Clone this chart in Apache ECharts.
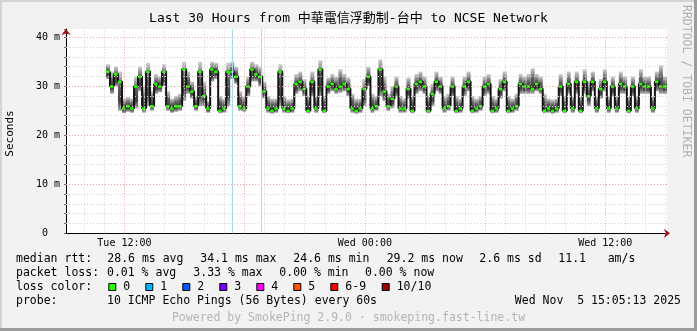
<!DOCTYPE html>
<html><head><meta charset="utf-8">
<script src="https://cdn.jsdelivr.net/npm/echarts@6/dist/echarts.min.js"></script>
<style>html,body{margin:0;padding:0;background:#f2f2f2}#c{width:697px;height:331px}</style>
</head><body><div id="c"></div>
<script>
// ---- data (median RTT in ms, 12-minute consolidation) ----
const medianMs = [
 33,30,32.5,31,25.5,26,25.5,30,32,25.5, 33,26,30.5,30,33,26,25.5,26,26,33.5,
 30,29,26,33,28,25.5,33.5,33,25,25.5, 33,33,32,26,25.5,30,33.5,32.5,32,29,
 25.5,25,25.5,33,25.5,25,25.5,30.5,31,29.5, 25,31,25.5,33.5,25,30,30.5,29.5,30,30.5,
 29.5,25.5,25,25.5,29.5,32,25.5,26,33.5,29, 26,27.5,30,25.5,25.5,29.5,25,30.5,31,30,
 25,28.5,31,30,25.5,26,30,25,25.5,30, 31,25,25.5,26,30,30.5,25,25.5,29.5,31,
 25,25.5,26,30.5,30,30,29.5,30.5,29.5,25, 25.5,25,25.5,30,25,30.5,25.5,31,25,31,
 28,31,25.5,29.5,31,25.5,30,25.5,30.5,30, 25,30,25.5,30.5,30,30,25.5,31,30,30
];
const smokeLowMs = [
 31.5,28.5,30,25,24.5,24.8,24.6,25.5,29,24.6, 26,25,28.5,28.8,30,25,24.6,24.8,25,27,
 28.5,27.5,25,26,26,24.6,31,31.5,24.5,24.6, 26,31.5,30.5,25,24.8,28,31,31,30,27.5,
 24.6,24.4,24.6,26,24.6,24.5,24.6,28.5,29,28, 24.5,28,24.6,28,24.5,28.5,29,28.5,28.7,29,
 28,24.6,24.4,24.6,26,30,24.6,25,28,27, 25,25.5,28,24.6,24.6,27.5,24.5,28.5,29,28.5,
 24.5,26,29,28.5,24.6,25,28,24.5,24.6,28, 29,24.5,24.6,25,28,28.5,24.5,24.6,27.5,29,
 24.5,24.6,25,28.5,28.5,28.5,28.5,29,28.5,24.5, 24.6,24.4,24.6,28,24.5,28.5,24.6,28.5,24.5,28.5,
 26,29,24.6,27.5,29,24.6,28,24.6,28.5,28.5, 24.5,28,24.6,28.5,28.5,28.5,24.6,29,28.5,28.5
];
const smokeHighMs = [
 34.5,33,34,33,27.5,27.8,27.5,32,34,30, 34.8,29,32.5,32,34.5,29,27.5,28,28.5,35,
 33,31,28,35,31,27,35,34.8,28,27.5, 34.8,35,34,29,28,32,35,34.5,34,31,
 28,27.5,27.5,34.5,28,27.3,27.5,32.5,33,31.5, 28,33,28,35.3,28,31.8,32.5,32,33.5,32.5,
 31.8,28.5,27.5,27.5,31.5,34,28.5,28,35.5,32, 28.5,30,32,28,27.5,31.8,28,32.5,33,32,
 28,30.5,33,32,28,28.5,32,28,27.5,32, 33,28,27.5,28,32,32.5,28,27.5,31.5,33,
 28,27.5,28.5,32.5,32,32.5,33.7,32.5,32,28.5, 27.5,27.3,27.5,32.5,28,33,28,33,28,33.5,
 31,33,28,31.5,33.5,28,32,28,33,32, 28,32,28,33.5,32,32,28,33,34.3,32
];
const firstSampleHour = 11.28;   // hours since Tue 00:00, end of first interval
const sampleStepHour = 0.2;      // 12 minutes
const axisStartHour = 9 + 5 / 60;    // Tue 09:05
const axisEndHour = 39 + 5 / 60;     // Wed 15:05
const xTickHours = [12, 24, 36];
const xTickLabels = ['Tue 12:00', 'Wed 00:00', 'Wed 12:00'];
const blueRuleHours = [17.37, 18.85];
const yMax = 41.7;

const statLabels = ['median rtt:', 'packet loss:', 'loss color:', 'probe:'];
const rttStats = ['28.6 ms avg', '34.1 ms max', '24.6 ms min', '29.2 ms now', '2.6 ms sd', '11.1', 'am/s'];
const lossStats = ['0.01 % avg', '3.33 % max', '0.00 % min', '0.00 % now'];
const lossNames = ['0', '1', '2', '3', '4', '5', '6-9', '10/10'];
const lossColors = ['#26ff00', '#00b8ff', '#0059ff', '#7e00ff', '#ff00ff', '#ff5500', '#ff0000', '#a10000'];
const probeText = '10 ICMP Echo Pings (56 Bytes) every 60s';
const dateText = 'Wed Nov  5 15:05:13 2025';
const poweredText = 'Powered by SmokePing 2.9.0 \u00b7 smokeping.fast-line.tw';
const titleText = 'Last 30 Hours from 中華電信浮動制-台中 to NCSE Network';

// ---- build ----
const MONO = "'DejaVu Sans Mono','Noto Sans CJK TC',monospace";
const times = medianMs.map((_, i) => firstSampleHour + i * sampleStepHour);
const medianPts = times.map((t, i) => [t, medianMs[i]]);
const smokePts = times.map((t, i) => [t, smokeLowMs[i], smokeHighMs[i]]);

const minorStyle = {color: '#d2d2d2', type: [1, 2], width: 1};
const majorStyle = {color: '#eaa0a0', type: [1, 2], width: 1};
const blueStyle = {color: '#a4dbf1', type: 'solid', width: 1};
const gridLines = [];
for (let h = Math.ceil(axisStartHour); h <= axisEndHour; h++) if (h % 6) gridLines.push({xAxis: h, lineStyle: minorStyle});
for (let v = 2; v <= 40; v += 2) if (v % 10) gridLines.push({yAxis: v, lineStyle: minorStyle});
for (let h = Math.ceil(axisStartHour); h <= axisEndHour; h++) if (h % 6 === 0) gridLines.push({xAxis: h, lineStyle: majorStyle});
for (let v = 10; v <= 40; v += 10) gridLines.push({yAxis: v, lineStyle: majorStyle});
blueRuleHours.forEach(h => gridLines.push({xAxis: h, lineStyle: blueStyle}));

const graphics = [];
function txt(x, y, s, opt) {
  graphics.push(Object.assign({type: 'text', x: x, y: y, silent: true,
    style: Object.assign({text: s, font: '11.5px ' + MONO, fill: '#000', textAlign: 'left', textVerticalAlign: 'middle'}, opt || {})}));
}
// frame
graphics.push({type: 'rect', shape: {x: 0, y: 0, width: 697, height: 2}, style: {fill: '#d4d4d4'}, silent: true});
graphics.push({type: 'rect', shape: {x: 0, y: 0, width: 2, height: 331}, style: {fill: '#d4d4d4'}, silent: true});
graphics.push({type: 'rect', shape: {x: 694, y: 0, width: 3, height: 331}, style: {fill: '#9c9c9c'}, silent: true});
graphics.push({type: 'rect', shape: {x: 0, y: 328, width: 697, height: 3}, style: {fill: '#9c9c9c'}, silent: true});

graphics.push({type: 'text', x: 10, y: 133.5, rotation: Math.PI / 2, silent: true,
  style: {text: 'Seconds', font: '11px ' + MONO, fill: '#000', textAlign: 'center', textVerticalAlign: 'middle'}});
graphics.push({type: 'text', x: 686, y: 5, rotation: -Math.PI / 2, silent: true,
  style: {text: 'RRDTOOL / TOBI OETIKER', font: '11.5px ' + MONO, fill: '#b0b0b0', textAlign: 'left', textVerticalAlign: 'middle'}});

const L1 = 259.3, L2 = 272.7, L3 = 287, L4 = 300.7, L5 = 318.3;
txt(16, L1, statLabels[0]);
[107.3, 200.3, 293.3, 386.7, 479.3, 558.3, 607.7].forEach((x, i) => txt(x, L1, rttStats[i]));
txt(16, L2, statLabels[1]);
[107, 193.3, 279.3, 365].forEach((x, i) => txt(x, L2, lossStats[i]));
txt(16, L3, statLabels[2]);
[108.3, 145.3, 182.3, 219.3, 256.3, 293.3, 330.3, 381.7].forEach((x, i) => {
  graphics.push({type: 'rect', silent: true, shape: {x: x + 0.5, y: 283.5, width: 7, height: 7},
    style: {fill: lossColors[i], stroke: '#000', lineWidth: 1}});
  txt(x + 15, L3, lossNames[i]);
});
txt(16, L4, statLabels[3]);
txt(107, L4, probeText);
txt(681, L4, dateText, {textAlign: 'right'});
txt(348.5, L5, poweredText, {textAlign: 'center', fill: '#b4b4b4'});

const chart = echarts.init(document.getElementById('c'), null, {renderer: 'canvas', width: 697, height: 331});
chart.setOption({
  animation: false,
  backgroundColor: '#f2f2f2',
  title: {text: titleText, left: 'center', top: 7,
    textStyle: {fontFamily: MONO, fontSize: 13, fontWeight: 'normal', color: '#000'}},
  grid: {left: 66, right: 30, top: 29, bottom: 97.7, show: true, backgroundColor: '#fff', borderWidth: 0},
  xAxis: [{
    type: 'value', min: axisStartHour, max: axisEndHour,
    axisLine: {show: true, onZero: false, lineStyle: {color: '#000', width: 1}},
    axisTick: {show: false}, splitLine: {show: false},
    axisLabel: {customValues: xTickHours, margin: 5, fontFamily: MONO, fontSize: 10, color: '#000',
      formatter: v => { const k = xTickHours.indexOf(v); return k >= 0 ? xTickLabels[k] : ''; }}
  }, {
    type: 'value', min: axisStartHour, max: axisEndHour, position: 'bottom',
    axisLine: {show: true, onZero: false, symbol: ['none', 'arrow'], symbolSize: [7, 6], symbolOffset: [0, 3],
      lineStyle: {color: '#9b1414', width: 0}},
    axisTick: {show: false}, axisLabel: {show: false}, splitLine: {show: false}
  }],
  yAxis: [{
    type: 'value', min: 0, max: yMax, interval: 2,
    axisLine: {show: true, onZero: false, lineStyle: {color: '#000', width: 1}},
    axisTick: {show: true, length: 2, lineStyle: {color: '#666'}},
    splitLine: {show: false},
    axisLabel: {margin: 6, fontFamily: MONO, fontSize: 10, color: '#000',
      formatter: v => (Math.abs(v % 10) < 1e-6 && v <= 40) ? (v === 0 ? '0  ' : v + ' m') : ''}
  }, {
    type: 'value', min: 0, max: yMax, position: 'left',
    axisLine: {show: true, onZero: false, symbol: ['none', 'arrow'], symbolSize: [7, 6],
      lineStyle: {color: '#9b1414', width: 0}},
    axisTick: {show: false}, axisLabel: {show: false}, splitLine: {show: false}
  }],
  series: [
    {type: 'line', data: [], silent: true, z: 1,
     markLine: {silent: true, symbol: ['none', 'none'], label: {show: false}, animation: false, data: gridLines}},
    {type: 'custom', data: smokePts, z: 2, silent: true, clip: true, encode: {x: 0, y: [1, 2]},
     renderItem: (params, api) => {
       const t = api.value(0), lo = api.value(1), hi = api.value(2);
       const p0 = api.coord([t - sampleStepHour, hi]);
       const p1 = api.coord([t, lo]);
       return {type: 'rect', shape: {x: p0[0], y: p0[1], width: p1[0] - p0[0], height: p1[1] - p0[1]},
         style: {fill: {type: 'linear', x: 0, y: 0, x2: 0, y2: 1, colorStops: [
           {offset: 0, color: '#cfcfcf'}, {offset: 0.4, color: '#5c5c5c'}, {offset: 0.75, color: '#404040'}, {offset: 1, color: '#aaaaaa'}]}}};
     }},
    {type: 'line', data: medianPts, step: 'start', z: 3, symbol: 'none', silent: true,
     lineStyle: {color: '#141414', width: 2}},
    {type: 'custom', data: medianPts, z: 4, silent: true, clip: true, encode: {x: 0, y: 1},
     renderItem: (params, api) => {
       const p = api.coord([api.value(0) - sampleStepHour / 2, api.value(1)]);
       return {type: 'rect', shape: {x: p[0] - 2, y: p[1] - 1, width: 3.5, height: 2.5}, style: {fill: '#26ff00'}};
     }}
  ],
  graphic: graphics
});
</script></body></html>
